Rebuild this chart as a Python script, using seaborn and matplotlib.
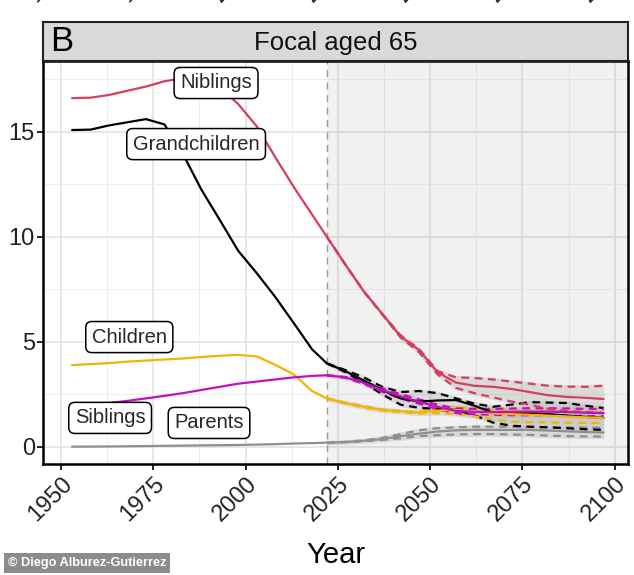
import numpy as np
import pandas as pd
import seaborn as sns
import matplotlib.pyplot as plt
import matplotlib.transforms as mtransforms

# observed years + projection years
years = [1953, 1958, 1963, 1968, 1973, 1978, 1983, 1988, 1993, 1998, 2003, 2008, 2013, 2018,
         2022, 2027, 2032, 2037, 2042, 2047, 2052, 2057, 2062, 2067, 2072, 2077, 2082, 2087, 2092, 2097]
proj_years = years[14:]

kin = ['Niblings', 'Grandchildren', 'Children', 'Siblings', 'Parents']
kin_colors = ['#d43f5e', '#000000', '#f2b600', '#c40fbf', '#8f8f8f']

# median (solid lines)
niblings = [16.6, 16.62, 16.75, 16.95, 17.15, 17.4, 17.55, 17.5, 17.1, 16.32, 15.26, 13.8, 12.38, 11.06,
            10.0, 8.68, 7.4, 6.33, 5.25, 4.6, 3.55, 3.05, 2.9, 2.85, 2.75, 2.6, 2.45, 2.37, 2.33, 2.27]
grandchildren = [15.08, 15.1, 15.3, 15.45, 15.6, 15.35, 13.95, 12.25, 10.8, 9.33, 8.27, 7.14, 5.9, 4.64,
                 3.97, 3.6, 3.15, 2.7, 2.3, 2.15, 2.2, 2.22, 1.95, 1.62, 1.6, 1.6, 1.55, 1.48, 1.42, 1.37]
children = [3.89, 3.93, 3.98, 4.05, 4.1, 4.15, 4.2, 4.27, 4.33, 4.37, 4.3, 3.9, 3.45, 2.65,
            2.3, 2.08, 1.9, 1.75, 1.68, 1.62, 1.72, 1.75, 1.65, 1.58, 1.55, 1.52, 1.48, 1.44, 1.4, 1.37]
siblings = [2.0, 2.02, 2.08, 2.18, 2.3, 2.42, 2.55, 2.7, 2.85, 3.0, 3.1, 3.2, 3.3, 3.37,
            3.4, 3.3, 3.05, 2.7, 2.4, 2.14, 1.9, 1.7, 1.66, 1.65, 1.66, 1.67, 1.67, 1.65, 1.62, 1.6]
parents = [0.0, 0.005, 0.01, 0.02, 0.03, 0.04, 0.05, 0.06, 0.07, 0.08, 0.1, 0.12, 0.15, 0.17,
           0.19, 0.22, 0.28, 0.36, 0.5, 0.62, 0.72, 0.78, 0.8, 0.8, 0.8, 0.8, 0.77, 0.73, 0.7, 0.67]

# projection quantiles (dashed)
niblings_hi = [10.0, 8.68, 7.4, 6.33, 5.3, 4.65, 3.6, 3.3, 3.27, 3.2, 3.1, 3.0, 2.9, 2.86, 2.85, 2.9]
niblings_lo = [10.0, 8.68, 7.4, 6.3, 5.2, 4.5, 3.45, 2.8, 2.55, 2.35, 2.15, 2.0, 1.8, 1.7, 1.65, 1.6]
grandchildren_hi = [3.97, 3.65, 3.3, 2.85, 2.6, 2.65, 2.55, 2.3, 2.05, 1.9, 2.0, 2.12, 2.1, 2.08, 1.95, 1.84]
grandchildren_lo = [3.97, 3.55, 3.05, 2.5, 2.0, 1.85, 1.8, 1.75, 1.5, 1.15, 1.0, 0.95, 0.92, 0.88, 0.83, 0.8]
children_hi = [2.3, 2.1, 1.93, 1.78, 1.7, 1.66, 1.85, 1.9, 1.82, 1.78, 1.75, 1.72, 1.7, 1.68, 1.66, 1.65]
children_lo = [2.3, 2.06, 1.87, 1.72, 1.65, 1.58, 1.6, 1.55, 1.45, 1.3, 1.2, 1.17, 1.15, 1.14, 1.13, 1.12]
siblings_hi = [3.4, 3.32, 3.1, 2.78, 2.5, 2.25, 2.0, 1.82, 1.8, 1.8, 1.82, 1.83, 1.83, 1.82, 1.8, 1.8]
siblings_lo = [3.4, 3.28, 3.0, 2.62, 2.3, 2.05, 1.78, 1.6, 1.55, 1.52, 1.5, 1.5, 1.5, 1.48, 1.46, 1.45]
parents_hi = [0.19, 0.23, 0.3, 0.42, 0.6, 0.78, 0.88, 0.92, 0.95, 0.95, 0.95, 0.94, 0.93, 0.92, 0.91, 0.9]
parents_lo = [0.19, 0.21, 0.26, 0.32, 0.4, 0.5, 0.55, 0.58, 0.6, 0.6, 0.58, 0.56, 0.53, 0.5, 0.49, 0.48]

# label boxes: text, x (year), y (value)
label_text = ['Niblings', 'Grandchildren', 'Children', 'Siblings', 'Parents']
label_x = [1992.0, 1986.6, 1968.5, 1963.3, 1990.1]
label_y = [17.32, 14.41, 5.22, 1.37, 1.13]

tick_years = [1950, 1975, 2000, 2025, 2050, 2075, 2100]

# long-form tables
med = pd.DataFrame({'year': years * 5,
                    'value': niblings + grandchildren + children + siblings + parents,
                    'kin': np.repeat(kin, len(years))})
hi = pd.DataFrame({'year': proj_years * 5,
                   'value': niblings_hi + grandchildren_hi + children_hi + siblings_hi + parents_hi,
                   'kin': np.repeat(kin, len(proj_years))})
lo = pd.DataFrame({'year': proj_years * 5,
                   'value': niblings_lo + grandchildren_lo + children_lo + siblings_lo + parents_lo,
                   'kin': np.repeat(kin, len(proj_years))})
palette = dict(zip(kin, kin_colors))

sns.set_theme(style='whitegrid')
plt.rcParams['font.family'] = ['Liberation Sans', 'DejaVu Sans']

fig = plt.figure(figsize=(6.34, 5.75), dpi=100)
ax = fig.add_axes([0.0683, 0.1925, 0.9222, 0.7015])

ax.set_xlim(1945.2, 2103.6)
ax.set_ylim(-0.84, 18.37)

# grid
ax.set_xticks(tick_years)
ax.set_yticks([0, 5, 10, 15])
ax.set_xticks([1962.5, 1987.5, 2012.5, 2037.5, 2062.5, 2087.5], minor=True)
ax.set_yticks([2.5, 7.5, 12.5, 17.5], minor=True)
ax.grid(which='major', color='#e3e3e3', lw=1.2)
ax.grid(which='minor', color='#ededed', lw=0.7)
ax.set_axisbelow(True)

# projection period shading
ax.axvspan(2022, 2103.6, color='#808080', alpha=0.11, lw=0, zorder=1)
ax.axvline(2022, color='#9a9a9a', lw=1, ls=(0, (5, 4)), zorder=1)

# simulation spread
for k, h, l in zip(kin,
                   [niblings_hi, grandchildren_hi, children_hi, siblings_hi, parents_hi],
                   [niblings_lo, grandchildren_lo, children_lo, siblings_lo, parents_lo]):
    ax.fill_between(proj_years, np.array(l) - 0.1, np.array(h) + 0.1,
                    color='#b0b0b0', alpha=0.35, lw=0, zorder=2)

sns.lineplot(data=hi, x='year', y='value', hue='kin', palette=palette, legend=False,
             lw=1.6, ax=ax, zorder=3)
sns.lineplot(data=lo, x='year', y='value', hue='kin', palette=palette, legend=False,
             lw=1.6, ax=ax, zorder=3)
for line in ax.lines[1:]:
    line.set_linestyle((0, (3.5, 2.5)))
sns.lineplot(data=med, x='year', y='value', hue='kin', palette=palette, legend=False,
             lw=1.6, ax=ax, zorder=4)

for t, x, y in zip(label_text, label_x, label_y):
    ax.text(x, y, t, fontsize=14.5, ha='center', va='center', zorder=6,
            bbox=dict(boxstyle='round,pad=0.3,rounding_size=0.3', fc='white', ec='black', lw=1.1))

# axes styling
for s in ax.spines.values():
    s.set_color('black')
    s.set_linewidth(1.8)
    s.set_zorder(7)
ax.tick_params(axis='both', which='major', length=4, width=1.2, color='black',
               labelsize=17, labelcolor='#222222', pad=2, bottom=True, left=True)
ax.tick_params(which='minor', length=0)
ax.set_xticklabels([str(t) for t in tick_years], rotation=45, ha='right',
                   rotation_mode='anchor')
ax.set_xlabel('Year', fontsize=21, labelpad=11, color='black')
ax.set_ylabel('')

# facet strip
strip = fig.add_axes([0.0683, 0.894, 0.9222, 0.0675])
strip.set_facecolor('#d9d9d9')
strip.set_xticks([])
strip.set_yticks([])
strip.grid(False)
for s in strip.spines.values():
    s.set_color('#222222')
    s.set_linewidth(1.5)
strip.text(0.5, 0.45, 'Focal aged 65', fontsize=18.5, ha='center', va='center',
           transform=strip.transAxes, color='#111111')
strip.text(0.012, 0.5, 'B', fontsize=25, ha='left', va='center',
           transform=strip.transAxes, color='black')

# cut-off tick labels of the panel above
trans = mtransforms.blended_transform_factory(ax.transData, fig.transFigure)
for t in tick_years:
    fig.text(t, 1.08, str(t), transform=trans, fontsize=17, color='#222222',
             rotation=45, ha='right', va='top', rotation_mode='anchor')

# watermark
fig.text(0.012, 0.01, '\u00a9 Diego Alburez-Gutierrez', fontsize=9.2, color='white',
         fontweight='bold', family=['Liberation Sans Narrow', 'Liberation Sans', 'DejaVu Sans'],
         ha='left', va='bottom',
         bbox=dict(boxstyle='square,pad=0.3', fc='#8c8c8c', ec='none'))

fig.savefig('out.png', dpi=100)
